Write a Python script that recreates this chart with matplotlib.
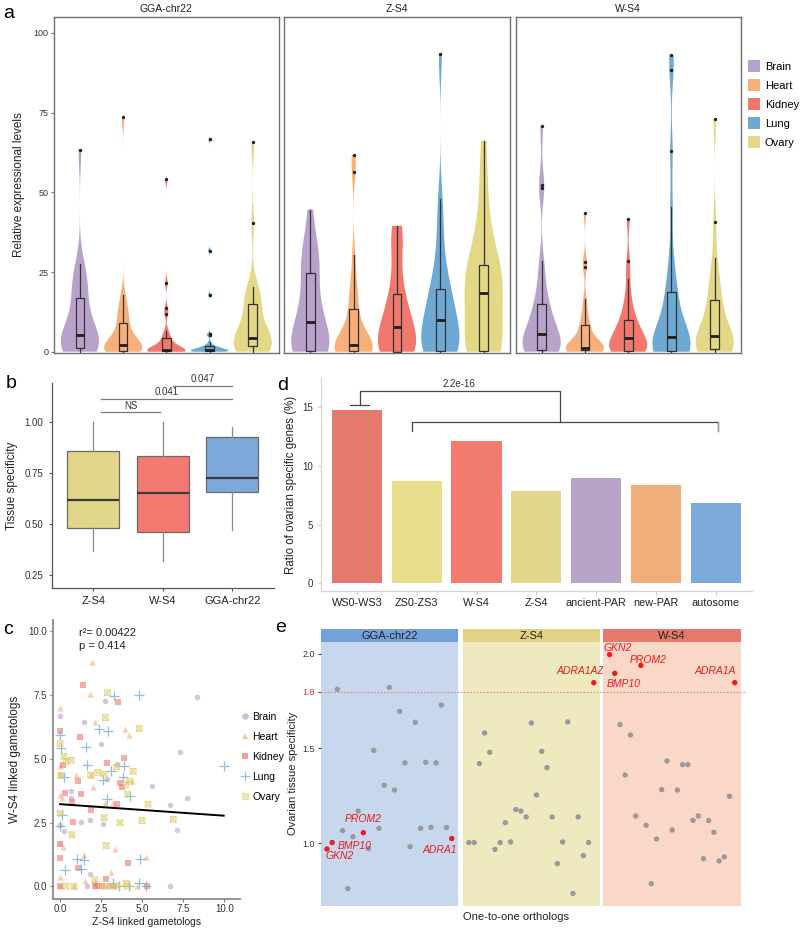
import numpy as np
import matplotlib
matplotlib.use('Agg')
import matplotlib.pyplot as plt
from matplotlib.patches import Patch
from matplotlib.lines import Line2D
from matplotlib.path import Path

plt.rcParams['font.family'] = ['Liberation Sans', 'DejaVu Sans']

# ---------------- data: panel a ----------------
tissues = ['Brain', 'Heart', 'Kidney', 'Lung', 'Ovary']
tissue_colors = ['#B8A2CC', '#F8B07A', '#F2776D', '#6EA9D3', '#E3D885']
facets_a = ['GGA-chr22', 'Z-S4', 'W-S4']

gga_brain = [0, 0.2, 0.4, 0.6, 0.8, 1.0, 1.1, 2, 3, 3.5, 4, 4.8, 5.4, 6.5, 8, 10, 12, 14.5, 17, 19, 21, 23, 25, 27.6, 63.4]
gga_heart = [0, 0.05, 0.1, 0.15, 0.2, 0.25, 0.3, 0.6, 0.9, 1.2, 1.5, 1.8, 2.0, 2.6, 3.3, 4.2, 5.5, 7, 8.9, 10, 11.5, 13, 15, 17.8, 73.6]
gga_kidney = [0, 0, 0.05, 0.1, 0.15, 0.18, 0.2, 0.25, 0.3, 0.35, 0.4, 0.45, 0.5, 0.8, 1.2, 2, 2.8, 3.5, 4.2, 5.2, 6.6, 11.7, 13.6, 21.5, 54.2]
gga_lung = [0, 0, 0.05, 0.1, 0.15, 0.2, 0.25, 0.3, 0.4, 0.45, 0.5, 0.6, 0.7, 0.9, 1.1, 1.3, 1.5, 1.7, 1.8, 2.9, 5.2, 5.5, 17.8, 31.7, 66.6]
gga_ovary = [0, 0.3, 0.6, 0.9, 1.2, 1.5, 1.7, 2.2, 2.7, 3.2, 3.6, 4.0, 4.3, 5.5, 7, 9, 11, 13, 15.1, 16.5, 17.5, 18.5, 20.2, 40.4, 65.7]

z_brain = [0, 0.05, 0.1, 0.15, 0.2, 0.25, 0.3, 1.5, 3, 4.5, 6, 7.8, 9.4, 11, 13, 15, 17.5, 21, 24.8, 26.5, 28.5, 30.5, 33, 37, 44.6]
z_heart = [0, 0.05, 0.08, 0.1, 0.14, 0.18, 0.2, 0.5, 0.8, 1.1, 1.4, 1.8, 2.1, 3, 4.2, 6, 8, 10.5, 13.3, 16, 19, 22, 30.3, 56.5, 61.7]
z_kidney = [0, 0, 0, 0, 0, 0, 0, 1.5, 3, 4.5, 5.5, 6.8, 7.8, 9, 10.5, 12, 14, 16, 18.2, 22, 27, 32, 36, 38.5, 39.5]
z_lung = [0, 0.05, 0.1, 0.15, 0.2, 0.25, 0.3, 2, 4, 5.5, 7, 8.5, 10, 11.5, 13, 14.5, 16, 18, 19.8, 23, 27, 32, 40, 48, 93.3]
z_ovary = [0, 0.1, 0.2, 0.25, 0.28, 0.3, 0.3, 5, 9, 12, 14, 16.5, 18.5, 20, 21.5, 23, 24.5, 26, 27.2, 30, 34, 39, 46, 55, 66.1]

w_brain = [0, 0.1, 0.2, 0.3, 0.4, 0.5, 0.6, 0.6, 1.8, 2.8, 3.6, 4.4, 5.0, 5.6, 7, 8.5, 10, 11.5, 13, 15, 15, 20, 24, 28.4, 51.5, 52.2, 70.7]
w_heart = [0, 0.1, 0.2, 0.3, 0.4, 0.5, 0.6, 0.8, 0.9, 1.0, 1.1, 1.2, 1.25, 1.3, 2, 3, 4, 5, 6.5, 8, 8.6, 10.5, 13, 16.5, 26.6, 28.3, 43.6]
w_kidney = [0, 0.05, 0.1, 0.15, 0.2, 0.25, 0.3, 1, 1.8, 2.5, 3.2, 3.8, 4.2, 5, 6, 7, 8, 9, 10.1, 12, 14.5, 17, 22.7, 28.4, 41.7]
w_lung = [0, 0.05, 0.1, 0.15, 0.2, 0.25, 0.3, 0.3, 0.8, 1.5, 2.3, 3.1, 3.9, 4.7, 6, 8, 10, 12.5, 15, 18, 19.2, 24, 30, 45.5, 62.9, 88.4, 93]
w_ovary = [0, 0.2, 0.4, 0.5, 0.6, 0.7, 0.8, 1.5, 2.3, 3, 3.7, 4.4, 5, 6.3, 7.8, 9.5, 11.5, 13.8, 16.1, 18.5, 21, 24, 29.5, 40.8, 73.1]

# ---------------- data: panel b ----------------
b_groups = ['Z-S4', 'W-S4', 'GGA-chr22']
b_colors = ['#E2D68A', '#F27A70', '#7CA9DA']
b_q1 = [0.480, 0.461, 0.657]
b_med = [0.619, 0.654, 0.729]
b_q3 = [0.858, 0.833, 0.928]
b_lo = [0.369, 0.320, 0.472]
b_hi = [1.000, 1.000, 0.979]
b_sig_labels = ['NS', '0.041', '0.047']
b_sig_x0 = [1.106, 1.106, 2.152]
b_sig_x1 = [1.964, 3.0, 3.0]
b_sig_y = [1.051, 1.116, 1.180]

# ---------------- data: panel d ----------------
d_categories = ['WS0-WS3', 'ZS0-ZS3', 'W-S4', 'Z-S4', 'ancient-PAR', 'new-PAR', 'autosome']
d_values = [14.7, 8.73, 12.1, 7.88, 8.96, 8.36, 6.86]
d_colors = ['#E5796E', '#EADE8C', '#F27B72', '#E2D68A', '#B9A2C8', '#F0AE7A', '#7DAAD8']
d_pvalue = '2.2e-16'

# ---------------- data: panel c ----------------
c_brain_x = [0.02, 1.45, 2.71, 8.34, 2.50, 7.30, 5.57, 2.83, 0.68, 0.66, 7.75, 6.66, 1.25, 1.82, 2.64, 7.13, 0.25, 0.00, 1.82, 1.64, 6.66, 2.89, 3.44]
c_brain_y = [6.67, 6.46, 7.27, 7.42, 5.58, 5.26, 3.94, 4.21, 3.72, 3.46, 3.46, 3.18, 2.54, 2.59, 2.46, 2.21, 2.18, 2.39, 0.48, 0.00, 0.00, 0.00, 4.81]
c_heart_x = [1.97, 0.00, 1.80, 2.11, 3.96, 4.22, 0.00, 0.00, 0.94, 1.88, 2.00, 4.40, 0.00, 0.12, 2.71, 3.24, 0.00, 0.18, 1.43, 3.32, 5.23, 3.07, 0.00, 1.52, 2.11, 0.82, 0.00, 4.67]
c_heart_y = [8.81, 7.00, 7.56, 6.46, 6.16, 5.94, 4.71, 4.44, 4.38, 4.38, 3.88, 4.12, 3.60, 3.45, 3.26, 3.26, 1.69, 1.52, 1.22, 1.47, 1.13, 0.55, 0.38, 0.21, 0.16, 0.00, 0.00, 0.00]
c_kidney_x = [1.41, 3.55, 0.00, 1.23, 3.89, 2.87, 0.18, 1.09, 3.65, 3.77, 0.31, 1.27, 0.70, 3.44, 1.86, 0.76, 0.00, 0.00, 1.07, 4.14, 2.81, 0.00, 2.13, 2.25, 2.54, 3.20, 5.31]
c_kidney_y = [7.88, 7.23, 6.08, 5.86, 5.05, 4.84, 4.74, 4.13, 4.05, 3.91, 3.66, 3.63, 3.32, 3.22, 2.99, 2.53, 1.66, 1.11, 0.71, 0.92, 0.29, 0.00, 0.00, 0.00, 0.00, 0.00, 0.00]
c_lung_x = [0.00, 0.04, 1.60, 2.36, 2.93, 3.30, 4.80, 9.96, 1.62, 3.11, 3.87, 3.83, 2.60, 0.23, 4.24, 2.85, 0.10, 0.00, 0.29, 1.04, 1.45, 1.29, 4.88, 3.22, 3.59, 4.22, 4.82, 5.23]
c_lung_y = [5.92, 5.43, 5.47, 6.17, 6.11, 7.48, 7.51, 4.73, 4.74, 4.53, 4.71, 4.29, 4.18, 4.27, 3.56, 3.42, 2.80, 2.35, 0.64, 1.06, 1.04, 0.67, 1.07, 0.12, 0.00, 0.00, 0.12, 0.00]
c_ovary_x = [2.89, 2.75, 4.82, 0.00, 0.23, 0.37, 0.68, 1.86, 2.29, 2.69, 3.44, 4.45, 0.04, 4.24, 3.98, 4.12, 5.35, 0.00, 2.68, 3.65, 4.98, 6.89, 0.72, 2.81, 2.11, 0.37, 0.84, 3.47, 4.00, 4.10, 3.26, 2.72]
c_ovary_y = [7.60, 6.62, 6.19, 5.60, 5.10, 4.90, 4.94, 4.36, 4.47, 4.40, 4.68, 4.51, 4.34, 4.12, 4.00, 3.62, 3.22, 2.87, 2.69, 2.49, 2.58, 2.62, 2.02, 1.60, 0.26, 0.00, 0.00, 0.00, 0.12, 0.00, 0.00, 0.00]
c_fit_intercept = 3.22
c_fit_slope = -0.0453
c_r2_text = 'r\u00b2= 0.00422'
c_p_text = 'p = 0.414'

# ---------------- data: panel e ----------------
e_facets = ['GGA-chr22', 'Z-S4', 'W-S4']
e_strip_colors = ['#72A2D8', '#E2D384', '#E5796E']
e_bg_colors = ['#C6D7EE', '#EEE9BF', '#F9D8C8']
e_gga = [0.970, 1.004, 1.812, 1.067, 0.761, 1.035, 1.170, 1.056, 0.972, 1.490, 1.079, 1.306, 1.822, 1.281, 1.696,
         1.424, 0.982, 1.638, 1.079, 1.427, 1.084, 1.424, 1.729, 1.083, 1.025]
e_z = [1.004, 1.004, 1.420, 1.582, 1.480, 0.968, 1.004, 1.109, 1.007, 1.178, 1.170, 1.139, 1.634, 1.255, 1.485,
       1.399, 1.139, 0.893, 1.007, 1.640, 0.735, 1.139, 0.935, 1.004, 1.847]
e_w = [1.995, 1.896, 1.626, 1.360, 1.571, 1.144, 1.938, 1.095, 0.787, 1.023, 1.283, 1.434, 1.070, 1.281, 1.415,
       1.415, 1.121, 1.144, 0.919, 1.120, 1.058, 0.907, 0.928, 1.248, 1.847]
e_gga_hl = {1: 'GKN2', 2: 'BMP10', 8: 'PROM2', 25: 'ADRA1'}
e_z_hl = {25: 'ADRA1AZ'}
e_w_hl = {1: 'GKN2', 2: 'BMP10', 7: 'PROM2', 25: 'ADRA1A'}
e_threshold = 1.8

# ---------------- layout helpers ----------------
W, H = 800, 932
fig = plt.figure(figsize=(W / 100, H / 100), dpi=100)


def add_ax(x0, y0, x1, y1):
    return fig.add_axes([x0 / W, 1 - y1 / H, (x1 - x0) / W, (y1 - y0) / H])


def panel_letter(x, y, s):
    fig.text(x / W, 1 - y / H, s, fontsize=14, ha='left', va='center')


def nrd0(kde):
    # R's default (Silverman) bandwidth, expressed as a factor of the sample std
    d = kde.dataset.ravel()
    sd = np.std(d, ddof=1)
    q75, q25 = np.percentile(d, [75, 25])
    lo = min(sd, (q75 - q25) / 1.34)
    if lo <= 0:
        lo = sd
    return 0.9 * lo * len(d) ** -0.2 / sd


# ================= panel a =================
expr_data = [[gga_brain, gga_heart, gga_kidney, gga_lung, gga_ovary],
             [z_brain, z_heart, z_kidney, z_lung, z_ovary],
             [w_brain, w_heart, w_kidney, w_lung, w_ovary]]
facet_px = [(54, 278.7), (284.3, 509.7), (515.7, 740.7)]
pos = np.arange(1, 6)
for fi, (x0, x1) in enumerate(facet_px):
    ax = add_ax(x0, 16.7, x1, 352.7)
    data = expr_data[fi]
    vp = ax.violinplot(data, positions=pos, widths=0.88, showextrema=False, bw_method=nrd0, points=300)
    for body, c in zip(vp['bodies'], tissue_colors):
        body.set_facecolor(c)
        body.set_edgecolor('none')
        body.set_alpha(1)
    bp = ax.boxplot(data, positions=pos, widths=0.2, patch_artist=True, whis=1.5, showcaps=False,
                    boxprops=dict(edgecolor='#333333', linewidth=0.9),
                    whiskerprops=dict(color='#333333', linewidth=0.9),
                    medianprops=dict(color='#1e1e1e', linewidth=2.0),
                    flierprops=dict(marker='o', markerfacecolor='#1e1e1e', markeredgecolor='none',
                                    markersize=2.4))
    for patch, c in zip(bp['boxes'], tissue_colors):
        patch.set_facecolor(c)
    ax.set_xlim(0.4, 5.6)
    ax.set_ylim(-0.3, 105.1)
    ax.set_xticks([])
    for s in ax.spines.values():
        s.set_color('#707070')
        s.set_linewidth(1.0)
    ax.set_title(facets_a[fi], fontsize=7.5, pad=3.5, color='#222222')
    if fi == 0:
        ax.set_yticks([0, 25, 50, 75, 100])
        ax.tick_params(axis='y', labelsize=6.5, length=2, color='#707070', pad=2, labelcolor='#333333')
        ax.set_ylabel('Relative expressional levels', fontsize=8.5, labelpad=6, color='#222222')
    else:
        ax.set_yticks([])

handles_a = [Patch(facecolor=c, edgecolor='none', label=t) for t, c in zip(tissues, tissue_colors)]
fig.legend(handles=handles_a, loc='upper left', bbox_to_anchor=(748 / W, 1 - 60 / H), frameon=False,
           fontsize=8, handlelength=1.05, handleheight=1.3, handletextpad=0.45, labelspacing=0.62,
           borderpad=0, borderaxespad=0)
panel_letter(3, 13, 'a')

# ================= panel b =================
ax_b = add_ax(51.7, 383, 274, 588)
stats = [dict(med=m, q1=a, q3=b, whislo=lo, whishi=hi, fliers=[], label=g)
         for g, a, m, b, lo, hi in zip(b_groups, b_q1, b_med, b_q3, b_lo, b_hi)]
bpb = ax_b.bxp(stats, positions=[1, 2, 3], widths=0.75, patch_artist=True, showcaps=False,
               boxprops=dict(edgecolor='#6a6a6a', linewidth=0.9),
               whiskerprops=dict(color='#8a8a8a', linewidth=0.9),
               medianprops=dict(color='#3a3a3a', linewidth=1.6))
for patch, c in zip(bpb['boxes'], b_colors):
    patch.set_facecolor(c)
for lab, xa, xb, y in zip(b_sig_labels, b_sig_x0, b_sig_x1, b_sig_y):
    ax_b.plot([xa, xb], [y, y], color='#7a7a7a', lw=0.9, clip_on=False)
    ax_b.text((xa + xb) / 2, y + 0.006, lab, ha='center', va='bottom', fontsize=7, color='#333333')
ax_b.set_xlim(0.4, 3.6)
ax_b.set_ylim(0.1877, 1.1926)
ax_b.set_yticks([0.25, 0.5, 0.75, 1.0])
ax_b.set_yticklabels(['0.25', '0.50', '0.75', '1.00'])
ax_b.set_xticks([1, 2, 3])
ax_b.set_xticklabels(b_groups)
ax_b.tick_params(axis='y', labelsize=7, length=2.5, color='#555555', labelcolor='#333333')
ax_b.tick_params(axis='x', labelsize=8, length=2.5, color='#555555', labelcolor='#222222')
for s in ['top', 'right']:
    ax_b.spines[s].set_visible(False)
for s in ['left', 'bottom']:
    ax_b.spines[s].set_color('#555555')
    ax_b.spines[s].set_linewidth(0.9)
ax_b.set_ylabel('Tissue specificity', fontsize=8.5, labelpad=5, color='#222222')
panel_letter(6, 383, 'b')

# ================= panel d =================
ax_d = add_ax(321, 378, 751.7, 591)
xd = np.arange(1, len(d_categories) + 1)
ax_d.bar(xd, d_values, width=0.84, color=d_colors, edgecolor='none')
ax_d.set_xlim(0.4, 7.6)
ax_d.set_ylim(-0.65, 17.45)
ax_d.set_xticks(xd)
ax_d.set_xticklabels(d_categories)
ax_d.set_yticks([0, 5, 10, 15])
ax_d.tick_params(axis='y', labelsize=7, length=2, color='#cccccc', labelcolor='#333333')
ax_d.tick_params(axis='x', labelsize=7.8, length=3, color='#cccccc', labelcolor='#222222', pad=2)
for s in ['top', 'right']:
    ax_d.spines[s].set_visible(False)
for s in ['left', 'bottom']:
    ax_d.spines[s].set_color('#d6d6d6')
    ax_d.spines[s].set_linewidth(0.9)
ax_d.set_ylabel('Ratio of ovarian specific genes (%)', fontsize=8.3, labelpad=4, color='#222222')
# comparison brackets
cap_y = d_values[0] + 0.47
top_y = 16.36
grp_y = 13.7
ax_d.plot([0.89, 1.21], [cap_y, cap_y], color='#444444', lw=0.9)
ax_d.plot([1.06, 1.06, 4.40, 4.40], [cap_y, top_y, top_y, grp_y], color='#444444', lw=0.9)
ax_d.plot([1.92, 1.92, 7.04, 7.04], [12.96, grp_y, grp_y, 12.96], color='#444444', lw=0.9)
ax_d.plot([7.04, 7.04], [12.96, grp_y], color='#999999', lw=0.9)
ax_d.text(2.70, top_y + 0.15, d_pvalue, ha='center', va='bottom', fontsize=7, color='#333333')
panel_letter(277, 385, 'd')

# ================= panel c =================
ax_c = add_ax(52.7, 620, 240, 898.7)
sq_x = Path([(-1, -1), (1, -1), (1, 1), (-1, 1), (-1, -1), (-1, -1), (1, 1), (1, -1), (-1, 1)],
            [Path.MOVETO, Path.LINETO, Path.LINETO, Path.LINETO, Path.CLOSEPOLY,
             Path.MOVETO, Path.LINETO, Path.MOVETO, Path.LINETO])
c_sets = [(c_brain_x, c_brain_y, 'o', 16, tissue_colors[0]),
          (c_heart_x, c_heart_y, '^', 20, tissue_colors[1]),
          (c_kidney_x, c_kidney_y, 's', 16, tissue_colors[2]),
          (c_lung_x, c_lung_y, '+', 44, tissue_colors[3]),
          (c_ovary_x, c_ovary_y, sq_x, 18, '#D9CB60')]
c_handles = []
for (xs, ys, mk, sz, col), t in zip(c_sets, tissues):
    if mk in ('+',):
        ax_c.scatter(xs, ys, marker=mk, s=sz, color=col, alpha=0.75, linewidths=0.9, zorder=2)
    elif mk is sq_x:
        ax_c.scatter(xs, ys, marker='s', s=sz, color=col, alpha=0.25, linewidths=0, zorder=2)
        ax_c.scatter(xs, ys, marker=mk, s=sz, facecolors='none', edgecolors=col, alpha=0.7,
                     linewidths=0.6, zorder=2)
    else:
        ax_c.scatter(xs, ys, marker=mk, s=sz, color=col, alpha=0.6, linewidths=0, zorder=2)
    if mk is sq_x:
        h = Line2D([], [], marker='s', ls='', markersize=4.3, markerfacecolor=col, alpha=0.45,
                   markeredgecolor=col, label=t)
    else:
        h = Line2D([], [], marker=mk, ls='', markersize=4.6 if mk != '+' else 7, color=col,
                   alpha=0.7, markeredgewidth=0.9 if mk == '+' else 0, label=t)
    c_handles.append(h)
xfit = np.array([0.0, max(max(c_lung_x), max(c_brain_x))])
ax_c.plot(xfit, c_fit_intercept + c_fit_slope * xfit, color='black', lw=1.4, zorder=3)
ax_c.text(1.15, 9.95, c_r2_text, fontsize=8, va='center', ha='left', color='#222222')
ax_c.text(1.15, 9.42, c_p_text, fontsize=8, va='center', ha='left', color='#222222')
ax_c.set_xlim(-0.45, 10.95)
ax_c.set_ylim(-0.49, 10.45)
ax_c.set_xticks([0, 2.5, 5, 7.5, 10])
ax_c.set_xticklabels(['0.0', '2.5', '5.0', '7.5', '10.0'])
ax_c.set_yticks([0, 2.5, 5, 7.5, 10])
ax_c.set_yticklabels(['0.0', '2.5', '5.0', '7.5', '10.0'])
ax_c.tick_params(labelsize=7, length=2.5, color='#777777', labelcolor='#333333', pad=1.5)
for s in ['top', 'right']:
    ax_c.spines[s].set_visible(False)
for s in ['left', 'bottom']:
    ax_c.spines[s].set_color('#8a8a8a')
    ax_c.spines[s].set_linewidth(1.3)
ax_c.set_xlabel('Z-S4 linked gametologs', fontsize=7.5, labelpad=2, color='#222222')
ax_c.set_ylabel('W-S4 linked gametologs', fontsize=8.5, labelpad=5, color='#222222')
fig.legend(handles=c_handles, loc='upper left', bbox_to_anchor=(241 / W, 1 - 712 / H), frameon=False,
           fontsize=7.5, handlelength=0.8, handletextpad=0.3, labelspacing=0.95, borderpad=0,
           borderaxespad=0)
panel_letter(3, 630, 'c')

# ================= panel e =================
e_values = [e_gga, e_z, e_w]
e_hl = [e_gga_hl, e_z_hl, e_w_hl]
e_label_pos = [{1: (3.44, 0.935), 2: (6.26, 0.984), 8: (8.05, 1.127), 25: (22.67, 0.967)},
               {25: (22.47, 1.909)},
               {1: (2.6, 2.032), 2: (3.63, 1.842), 7: (8.31, 1.968), 25: (21.3, 1.909)}]
e_px = [(320.7, 458), (462.7, 600), (603.3, 741)]
for k, (x0, x1) in enumerate(e_px):
    ax = add_ax(x0, 641.7, x1, 905.7)
    ax.set_facecolor(e_bg_colors[k])
    vals = e_values[k]
    idx = np.arange(1, len(vals) + 1)
    cols = ['#EE1C1C' if i in e_hl[k] else '#9a9a9a' for i in idx]
    ax.scatter(idx, vals, s=15, c=cols, linewidths=0, zorder=3)
    for i, name in e_hl[k].items():
        lx, ly = e_label_pos[k][i]
        ax.text(lx, ly, name, color='#EE1C1C', fontsize=7.5, style='italic', ha='center', va='center',
                zorder=4, clip_on=False)
    ax.axhline(e_threshold, xmin=-0.03 if k == 0 else 0, xmax=1.03, color='#F07070', lw=0.8,
               ls=(0, (1.5, 1.5)), alpha=0.8, clip_on=False, zorder=2)
    ax.set_xlim(-0.2, 26.2)
    ax.set_ylim(0.671, 2.063)
    ax.set_xticks([])
    for s in ax.spines.values():
        s.set_visible(False)
    if k == 0:
        ax.set_yticks([1.0, 1.5, 1.8, 2.0])
        ax.set_yticklabels(['1.0', '1.5', '1.8', '2.0'])
        ax.tick_params(axis='y', labelsize=6.5, length=2.5, color='#444444', labelcolor='#333333', pad=1.5)
        ax.get_yticklabels()[2].set_color('#EE3030')
        ax.set_ylabel('Ovarian tissue specificity', fontsize=8, labelpad=3, color='#222222')
    else:
        ax.set_yticks([])
    sax = add_ax(x0, 629, x1, 641.7)
    sax.set_facecolor(e_strip_colors[k])
    sax.set_xticks([])
    sax.set_yticks([])
    for s in sax.spines.values():
        s.set_visible(False)
    sax.text(0.5, 0.45, e_facets[k], transform=sax.transAxes, ha='center', va='center', fontsize=8,
             color='#222222')
fig.text(515.7 / W, 1 - 916.7 / H, 'One-to-one orthologs', ha='center', va='center', fontsize=8,
         color='#222222')
panel_letter(275, 627, 'e')

fig.savefig('out.png', dpi=100)
